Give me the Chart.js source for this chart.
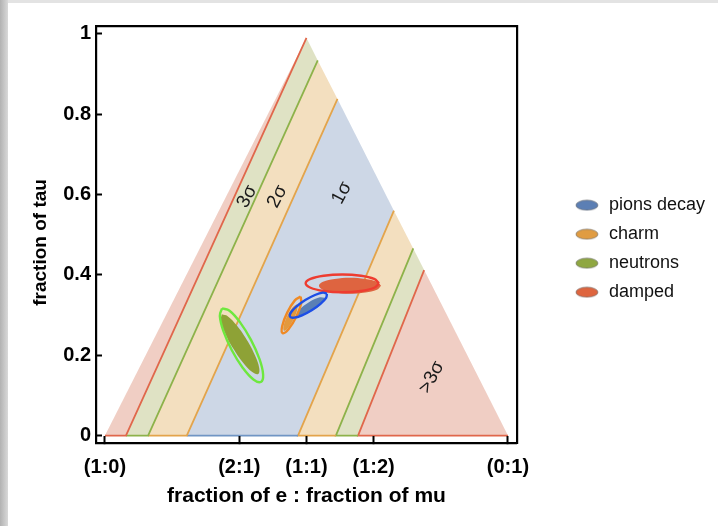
<!DOCTYPE html>
<html>
<head>
<meta charset="utf-8">
<title>Flavor composition</title>
<script src="https://cdn.jsdelivr.net/npm/chart.js@4.4.1/dist/chart.umd.min.js"></script>
<style>
  html, body { margin: 0; padding: 0; }
  body { width: 718px; height: 526px; background: #e3e3e3; position: relative; overflow: hidden; }
  #edge { position: absolute; left: 0; top: 0; width: 8px; height: 526px; background: linear-gradient(to right, #b2b2b2, #d9d9d9); }
  #panel { position: absolute; left: 8px; top: 3px; width: 710px; height: 523px; background: #fff; }
  canvas { display: block; }
</style>
</head>
<body>
<div id="edge"></div>
<div id="panel"><canvas id="flavorChart" width="710" height="523"></canvas></div>
<script>
// Axis ticks
const xTickValues = [0, 1 / 3, 1 / 2, 2 / 3, 1];
const xTickLabels = ['(1:0)', '(2:1)', '(1:1)', '(1:2)', '(0:1)'];
const yTickValues = [0, 0.2, 0.4, 0.6, 0.8, 1];
const yTickLabels = ['0', '0.2', '0.4', '0.6', '0.8', '1'];

// Triangle corners
const apex = { x: 0.5, y: 0.99 };
const baseLeft = { x: 0, y: 0 };
const baseRight = { x: 1, y: 0 };

// Band boundaries: [point on the triangle edge, point on the base]
const boundRedL = [{ x: 0.5, y: 0.99 }, { x: 0.052, y: 0 }];
const boundGreenL = [{ x: 0.528, y: 0.934 }, { x: 0.107, y: 0 }];
const boundOrangeL = [{ x: 0.577, y: 0.838 }, { x: 0.203, y: 0 }];
const boundOrangeR = [{ x: 0.717, y: 0.560 }, { x: 0.479, y: 0 }];
const boundGreenR = [{ x: 0.765, y: 0.466 }, { x: 0.573, y: 0 }];
const boundRedR = [{ x: 0.792, y: 0.412 }, { x: 0.628, y: 0 }];

// Band labels
const sigmaText = ['3σ', '2σ', '1σ', '>3σ'];
const sigmaX = [0.353, 0.428, 0.588, 0.811];
const sigmaY = [0.595, 0.595, 0.604, 0.145];

// Source regions: sampled points (filled cloud) and contour
const sourceNames = ['pions decay', 'charm', 'neutrons', 'damped'];

const pionsCloud = [
  { x: 0.5454, y: 0.3432 }, { x: 0.5312, y: 0.3435 }, { x: 0.5052, y: 0.3311 }, { x: 0.4826, y: 0.3133 },
  { x: 0.4766, y: 0.3004 }, { x: 0.4908, y: 0.3001 }, { x: 0.5168, y: 0.3125 }, { x: 0.5394, y: 0.3303 }
];
const pionsContour = [
  { x: 0.5508, y: 0.3532 }, { x: 0.5407, y: 0.3558 }, { x: 0.5211, y: 0.3500 }, { x: 0.4971, y: 0.3374 },
  { x: 0.4753, y: 0.3214 }, { x: 0.4613, y: 0.3064 }, { x: 0.4592, y: 0.2962 }, { x: 0.4693, y: 0.2936 },
  { x: 0.4889, y: 0.2994 }, { x: 0.5129, y: 0.3120 }, { x: 0.5347, y: 0.3280 }, { x: 0.5487, y: 0.3430 }
];

const charmCloud = [
  { x: 0.4766, y: 0.3272 }, { x: 0.4663, y: 0.3202 }, { x: 0.4525, y: 0.2978 }, { x: 0.4433, y: 0.2732 },
  { x: 0.4440, y: 0.2608 }, { x: 0.4543, y: 0.2678 }, { x: 0.4681, y: 0.2902 }, { x: 0.4773, y: 0.3148 }
];
const charmContour = [
  { x: 0.4856, y: 0.3460 }, { x: 0.4712, y: 0.3366 }, { x: 0.4522, y: 0.3061 }, { x: 0.4397, y: 0.2724 },
  { x: 0.4410, y: 0.2552 }, { x: 0.4554, y: 0.2646 }, { x: 0.4744, y: 0.2951 }, { x: 0.4869, y: 0.3288 }
];

const neutronsCloud = [
  { x: 0.2898, y: 0.3020 }, { x: 0.2873, y: 0.2868 }, { x: 0.2976, y: 0.2558 }, { x: 0.3179, y: 0.2172 },
  { x: 0.3428, y: 0.1814 }, { x: 0.3655, y: 0.1580 }, { x: 0.3802, y: 0.1532 }, { x: 0.3827, y: 0.1684 },
  { x: 0.3724, y: 0.1994 }, { x: 0.3521, y: 0.2380 }, { x: 0.3272, y: 0.2738 }, { x: 0.3045, y: 0.2972 }
];
const neutronsContour = [
  { x: 0.2905, y: 0.3167 }, { x: 0.2850, y: 0.2981 }, { x: 0.2939, y: 0.2600 }, { x: 0.3148, y: 0.2125 },
  { x: 0.3421, y: 0.1684 }, { x: 0.3684, y: 0.1395 }, { x: 0.3869, y: 0.1335 }, { x: 0.3924, y: 0.1521 },
  { x: 0.3835, y: 0.1902 }, { x: 0.3626, y: 0.2377 }, { x: 0.3353, y: 0.2818 }, { x: 0.3090, y: 0.3107 }
];

const dampedCloud = [
  { x: 0.685, y: 0.373 }, { x: 0.675, y: 0.383 }, { x: 0.6465, y: 0.390 }, { x: 0.608, y: 0.393 },
  { x: 0.5695, y: 0.390 }, { x: 0.541, y: 0.383 }, { x: 0.531, y: 0.373 }, { x: 0.541, y: 0.363 },
  { x: 0.5695, y: 0.356 }, { x: 0.608, y: 0.353 }, { x: 0.6465, y: 0.356 }, { x: 0.675, y: 0.363 }
];
const dampedContour = [
  { x: 0.680, y: 0.379 }, { x: 0.668, y: 0.390 }, { x: 0.635, y: 0.398 }, { x: 0.589, y: 0.401 },
  { x: 0.543, y: 0.398 }, { x: 0.510, y: 0.390 }, { x: 0.498, y: 0.379 }, { x: 0.510, y: 0.368 },
  { x: 0.543, y: 0.360 }, { x: 0.589, y: 0.357 }, { x: 0.635, y: 0.360 }, { x: 0.668, y: 0.368 }
];

// Colours
const fillPink = '#f0cec4';
const fillGreen = '#dfe2c4';
const fillOrange = '#f3dfbf';
const fillBlue = '#cdd7e6';
const lineRed = '#e0674b';
const lineGreen = '#8db24a';
const lineOrange = '#e3a44b';
const lineBlue = '#7095c4';

const cloudColors = ['#5a7fb5', '#e3993d', '#8ea236', '#de6440'];
const legendColors = ['#5c7fb4', '#e09c42', '#8fa741', '#de653f'];
const contourColors = ['#1c4ee6', '#ef8a25', '#6ee83e', '#ee3c30'];

// Small ellipse used as legend marker
function ellipseIcon(color) {
  const c = document.createElement('canvas');
  c.width = 24;
  c.height = 12;
  const g = c.getContext('2d');
  g.beginPath();
  g.ellipse(12, 6, 11, 5, 0, 0, 2 * Math.PI);
  g.fillStyle = color;
  g.fill();
  g.strokeStyle = 'rgba(90,90,90,0.55)';
  g.lineWidth = 1;
  g.stroke();
  return c;
}

const closed = pts => pts.concat([pts[0]]);

function region(points, color) {
  return {
    data: points, fill: 'shape', backgroundColor: color, borderColor: 'transparent',
    borderWidth: 0, pointRadius: 0, tension: 0, order: 100
  };
}

function edge(points, color) {
  return {
    data: points, fill: false, borderColor: color, borderWidth: 1.8,
    pointRadius: 0, tension: 0, order: 90
  };
}

function cloud(points, i) {
  return {
    label: sourceNames[i], data: closed(points), fill: 'shape', backgroundColor: cloudColors[i],
    borderColor: 'transparent', borderWidth: 0, pointRadius: 0, tension: 0.4,
    pointStyle: ellipseIcon(legendColors[i]), inLegend: true, order: 50
  };
}

function contour(points, i) {
  return {
    data: closed(points), fill: false, borderColor: contourColors[i], borderWidth: 2.4,
    pointRadius: 0, tension: 0.4, order: 10 + i
  };
}

// Band regions built from the boundaries
const regions = [
  region([baseLeft, apex, boundRedL[1]], fillPink),
  region([boundRedL[1], apex, boundGreenL[0], boundGreenL[1]], fillGreen),
  region([boundGreenL[1], boundGreenL[0], boundOrangeL[0], boundOrangeL[1]], fillOrange),
  region([boundOrangeL[1], boundOrangeL[0], boundOrangeR[0], boundOrangeR[1]], fillBlue),
  region([boundOrangeR[1], boundOrangeR[0], boundGreenR[0], boundGreenR[1]], fillOrange),
  region([boundGreenR[1], boundGreenR[0], boundRedR[0], boundRedR[1]], fillGreen),
  region([boundRedR[1], boundRedR[0], baseRight], fillPink)
];

const edges = [
  edge([baseLeft, boundRedL[1], boundRedL[0]], lineRed),
  edge([boundRedL[1], boundGreenL[1], boundGreenL[0]], lineGreen),
  edge([boundGreenL[1], boundOrangeL[1], boundOrangeL[0]], lineOrange),
  edge([boundOrangeL[1], boundOrangeR[1]], lineBlue),
  edge([boundOrangeR[0], boundOrangeR[1], boundGreenR[1]], lineOrange),
  edge([boundGreenR[0], boundGreenR[1], boundRedR[1]], lineGreen),
  edge([boundRedR[0], boundRedR[1], baseRight], lineRed)
];

const clouds = [pionsCloud, charmCloud, neutronsCloud, dampedCloud].map(cloud);
const contours = [pionsContour, charmContour, neutronsContour, dampedContour].map(contour);

// Rotated sigma labels inside the bands
const sigmaLabels = {
  id: 'sigmaLabels',
  afterDatasetsDraw(chart) {
    const { ctx, scales: { x, y } } = chart;
    ctx.save();
    ctx.font = '19px "Liberation Sans"';
    ctx.fillStyle = '#1a1a1a';
    ctx.textAlign = 'center';
    ctx.textBaseline = 'middle';
    sigmaText.forEach((t, i) => {
      ctx.save();
      ctx.translate(x.getPixelForValue(sigmaX[i]), y.getPixelForValue(sigmaY[i]));
      ctx.rotate(-62 * Math.PI / 180);
      ctx.fillText(t, 0, 0);
      ctx.restore();
    });
    ctx.restore();
  }
};

Chart.defaults.font.family = '"Liberation Sans", Arial, sans-serif';
Chart.defaults.color = '#000';

const tickFont = { size: 20, weight: 'bold' };

new Chart(document.getElementById('flavorChart'), {
  type: 'line',
  data: { datasets: [...clouds, ...contours, ...edges, ...regions] },
  plugins: [sigmaLabels],
  options: {
    responsive: false,
    animation: false,
    events: [],
    layout: { padding: { top: 18, right: 3, bottom: 0, left: 0 } },
    scales: {
      x: {
        type: 'linear', position: 'bottom', min: -0.0223, max: 1.0223,
        afterBuildTicks: axis => { axis.ticks = xTickValues.map(v => ({ value: v })); },
        afterFit: axis => { axis.height = 83; },
        ticks: {
          autoSkip: false, maxRotation: 0, padding: 19, font: tickFont,
          callback: (v, i) => xTickLabels[i]
        },
        grid: { drawOnChartArea: false, tickLength: -7, tickColor: '#000', tickWidth: 2, z: 1 },
        border: { color: '#000', width: 2.2, z: 1 },
        title: {
          display: true, text: 'fraction of e : fraction of mu',
          font: { size: 21, weight: 'bold' }, padding: { top: 0, bottom: 17 }
        }
      },
      y: {
        type: 'linear', position: 'left', min: -0.0185, max: 1.0197,
        afterBuildTicks: axis => { axis.ticks = yTickValues.map(v => ({ value: v })); },
        afterFit: axis => { axis.width = 88; },
        ticks: { padding: 11, font: tickFont, callback: (v, i) => yTickLabels[i] },
        grid: { drawOnChartArea: false, tickLength: -6, tickColor: '#000', tickWidth: 2, z: 1 },
        border: { color: '#000', width: 2.2, z: 1 },
        title: {
          display: true, text: 'fraction of tau   ',
          font: { size: 19, weight: 'bold' }, padding: { top: 21, bottom: 0 }
        }
      },
      x2: {
        type: 'linear', position: 'top', display: true,
        afterFit: axis => { axis.height = 0; },
        ticks: { display: false }, grid: { display: false },
        border: { color: '#000', width: 2.2, z: 1 }
      },
      y2: {
        type: 'linear', position: 'right', display: true,
        afterFit: axis => { axis.width = 46; },
        ticks: { display: false }, grid: { display: false },
        border: { color: '#000', width: 2.2, z: 1 }
      }
    },
    plugins: {
      tooltip: { enabled: false },
      legend: {
        position: 'right',
        fullSize: false,
        align: 'center',
        maxWidth: 200,
        title: { display: true, text: '', font: { size: 12 }, padding: { top: 6, bottom: 8 } },
        labels: {
          usePointStyle: true,
          pointStyleWidth: 26,
          padding: 11,
          color: '#111',
          font: { size: 18 },
          filter: (item, data) => !!data.datasets[item.datasetIndex].inLegend
        }
      }
    }
  }
});
</script>
</body>
</html>
